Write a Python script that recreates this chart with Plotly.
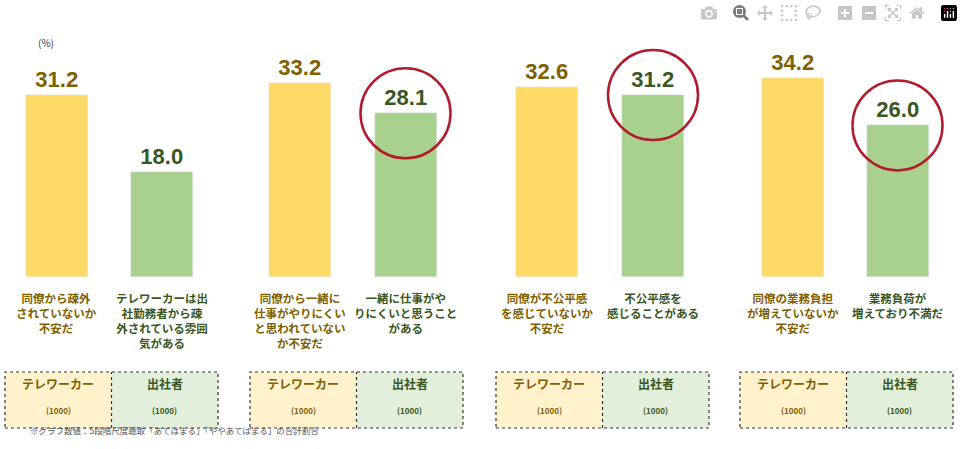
import plotly.graph_objects as go

# data
groups = ["疎外", "一緒に仕事", "不公平感", "業務負担"]
tele_values = [31.2, 33.2, 32.6, 34.2]
office_values = [18.0, 28.1, 31.2, 26.0]
tele_labels = ["同僚から疎外<br>されていないか<br>不安だ",
               "同僚から一緒に<br>仕事がやりにくい<br>と思われていない<br>か不安だ",
               "同僚が不公平感<br>を感じていないか<br>不安だ",
               "同僚の業務負担<br>が増えていないか<br>不安だ"]
office_labels = ["テレワーカーは出<br>社勤務者から疎<br>外されている雰囲<br>気がある",
                 "一緒に仕事がや<br>りにくいと思うこと<br>がある",
                 "不公平感を<br>感じることがある",
                 "業務負荷が<br>増えており不満だ"]
highlight = [False, True, True, True]
tele_name, office_name = "テレワーカー", "出社者"
n_sample = "(1000)"

# layout in pixels
W, H = 963, 449
tele_x = [56.5, 299.5, 547, 793]
office_x = [162, 405.5, 653, 897.5]
box_left = [5, 250, 496, 740]
box_w = 213
PX_PER_UNIT = 5.83
ZERO_Y = 277

YELLOW, GREEN = "#ffd966", "#a9d18e"
TXT_Y, TXT_G = "#7f6000", "#385723"
FONT = "Noto Sans CJK JP"
NUMFONT = "Liberation Sans"

fig = go.Figure()
fig.add_trace(go.Bar(x=tele_x, y=tele_values, width=62, marker_color=YELLOW,
                     text=[f"{v:.1f}" for v in tele_values], textposition="outside",
                     textfont=dict(size=22, color=TXT_Y, family=NUMFONT, weight="bold"),
                     cliponaxis=False))
fig.add_trace(go.Bar(x=office_x, y=office_values, width=62, marker_color=GREEN,
                     text=[f"{v:.1f}" for v in office_values], textposition="outside",
                     textfont=dict(size=22, color=TXT_G, family=NUMFONT, weight="bold"),
                     cliponaxis=False))

ybot = -(H - ZERO_Y) / PX_PER_UNIT
ytop = ZERO_Y / PX_PER_UNIT


def px(x):
    return x / W


def py(y):
    return 1 - y / H


shapes = []
ann = []
for i in range(len(groups)):
    for xc, lab, col in [(tele_x[i], tele_labels[i], TXT_Y), (office_x[i], office_labels[i], TXT_G)]:
        ann.append(dict(x=px(xc), y=py(288), xref="paper", yref="paper", text=lab,
                        showarrow=False, xanchor="center", yanchor="top", align="center",
                        font=dict(size=11.5, color=col, family=FONT, weight="bold")))
    x0 = box_left[i]
    xm = x0 + box_w / 2
    shapes.append(dict(type="rect", xref="paper", yref="paper", x0=px(x0), x1=px(xm),
                       y0=py(428), y1=py(372), fillcolor="#fff2cc", line=dict(width=0), layer="below"))
    shapes.append(dict(type="rect", xref="paper", yref="paper", x0=px(xm), x1=px(x0 + box_w),
                       y0=py(428), y1=py(372), fillcolor="#e2efda", line=dict(width=0), layer="below"))
    shapes.append(dict(type="rect", xref="paper", yref="paper", x0=px(x0), x1=px(x0 + box_w),
                       y0=py(428), y1=py(372), line=dict(color="#333", width=1.2, dash="dot")))
    shapes.append(dict(type="line", xref="paper", yref="paper", x0=px(xm), x1=px(xm),
                       y0=py(428), y1=py(372), line=dict(color="#333", width=1.2, dash="dot")))
    for xc, nm, col in [((x0 + xm) / 2, tele_name, TXT_Y), ((xm + x0 + box_w) / 2, office_name, TXT_G)]:
        ann.append(dict(x=px(xc), y=py(394), xref="paper", yref="paper", text=nm, showarrow=False,
                        xanchor="center", font=dict(size=12, color=col, family=FONT, weight="bold")))
        ann.append(dict(x=px(xc), y=py(418), xref="paper", yref="paper", text=n_sample, showarrow=False,
                        xanchor="center", font=dict(size=8, color=col, family=FONT, weight="bold")))
    if highlight[i]:
        cx = office_x[i]
        cy = ZERO_Y - office_values[i] * PX_PER_UNIT
        shapes.append(dict(type="circle", xref="paper", yref="paper",
                           x0=px(cx - 45), x1=px(cx + 45), y0=py(cy + 45), y1=py(cy - 45),
                           line=dict(color="#b01c2e", width=2.5)))

ann.append(dict(x=px(36), y=py(33), xref="paper", yref="paper", text="(%)", showarrow=False,
                xanchor="left", font=dict(size=10, color="#333", family=FONT)))
ann.append(dict(x=px(28), y=py(438), xref="paper", yref="paper",
                text="※グラフ数値：5段階尺度聴取「あてはまる」「ややあてはまる」の合計割合",
                showarrow=False, xanchor="left", font=dict(size=8.5, color="#555", family=FONT)))

fig.update_layout(
    width=W, height=H, margin=dict(l=0, r=0, t=0, b=0),
    plot_bgcolor="white", paper_bgcolor="white", showlegend=False,
    xaxis=dict(range=[0, W], visible=False),
    yaxis=dict(range=[ybot, ytop], visible=False),
    shapes=shapes, annotations=ann, bargap=0,
)
fig.write_html("out.html", post_script="document.body.style.margin='0';")
